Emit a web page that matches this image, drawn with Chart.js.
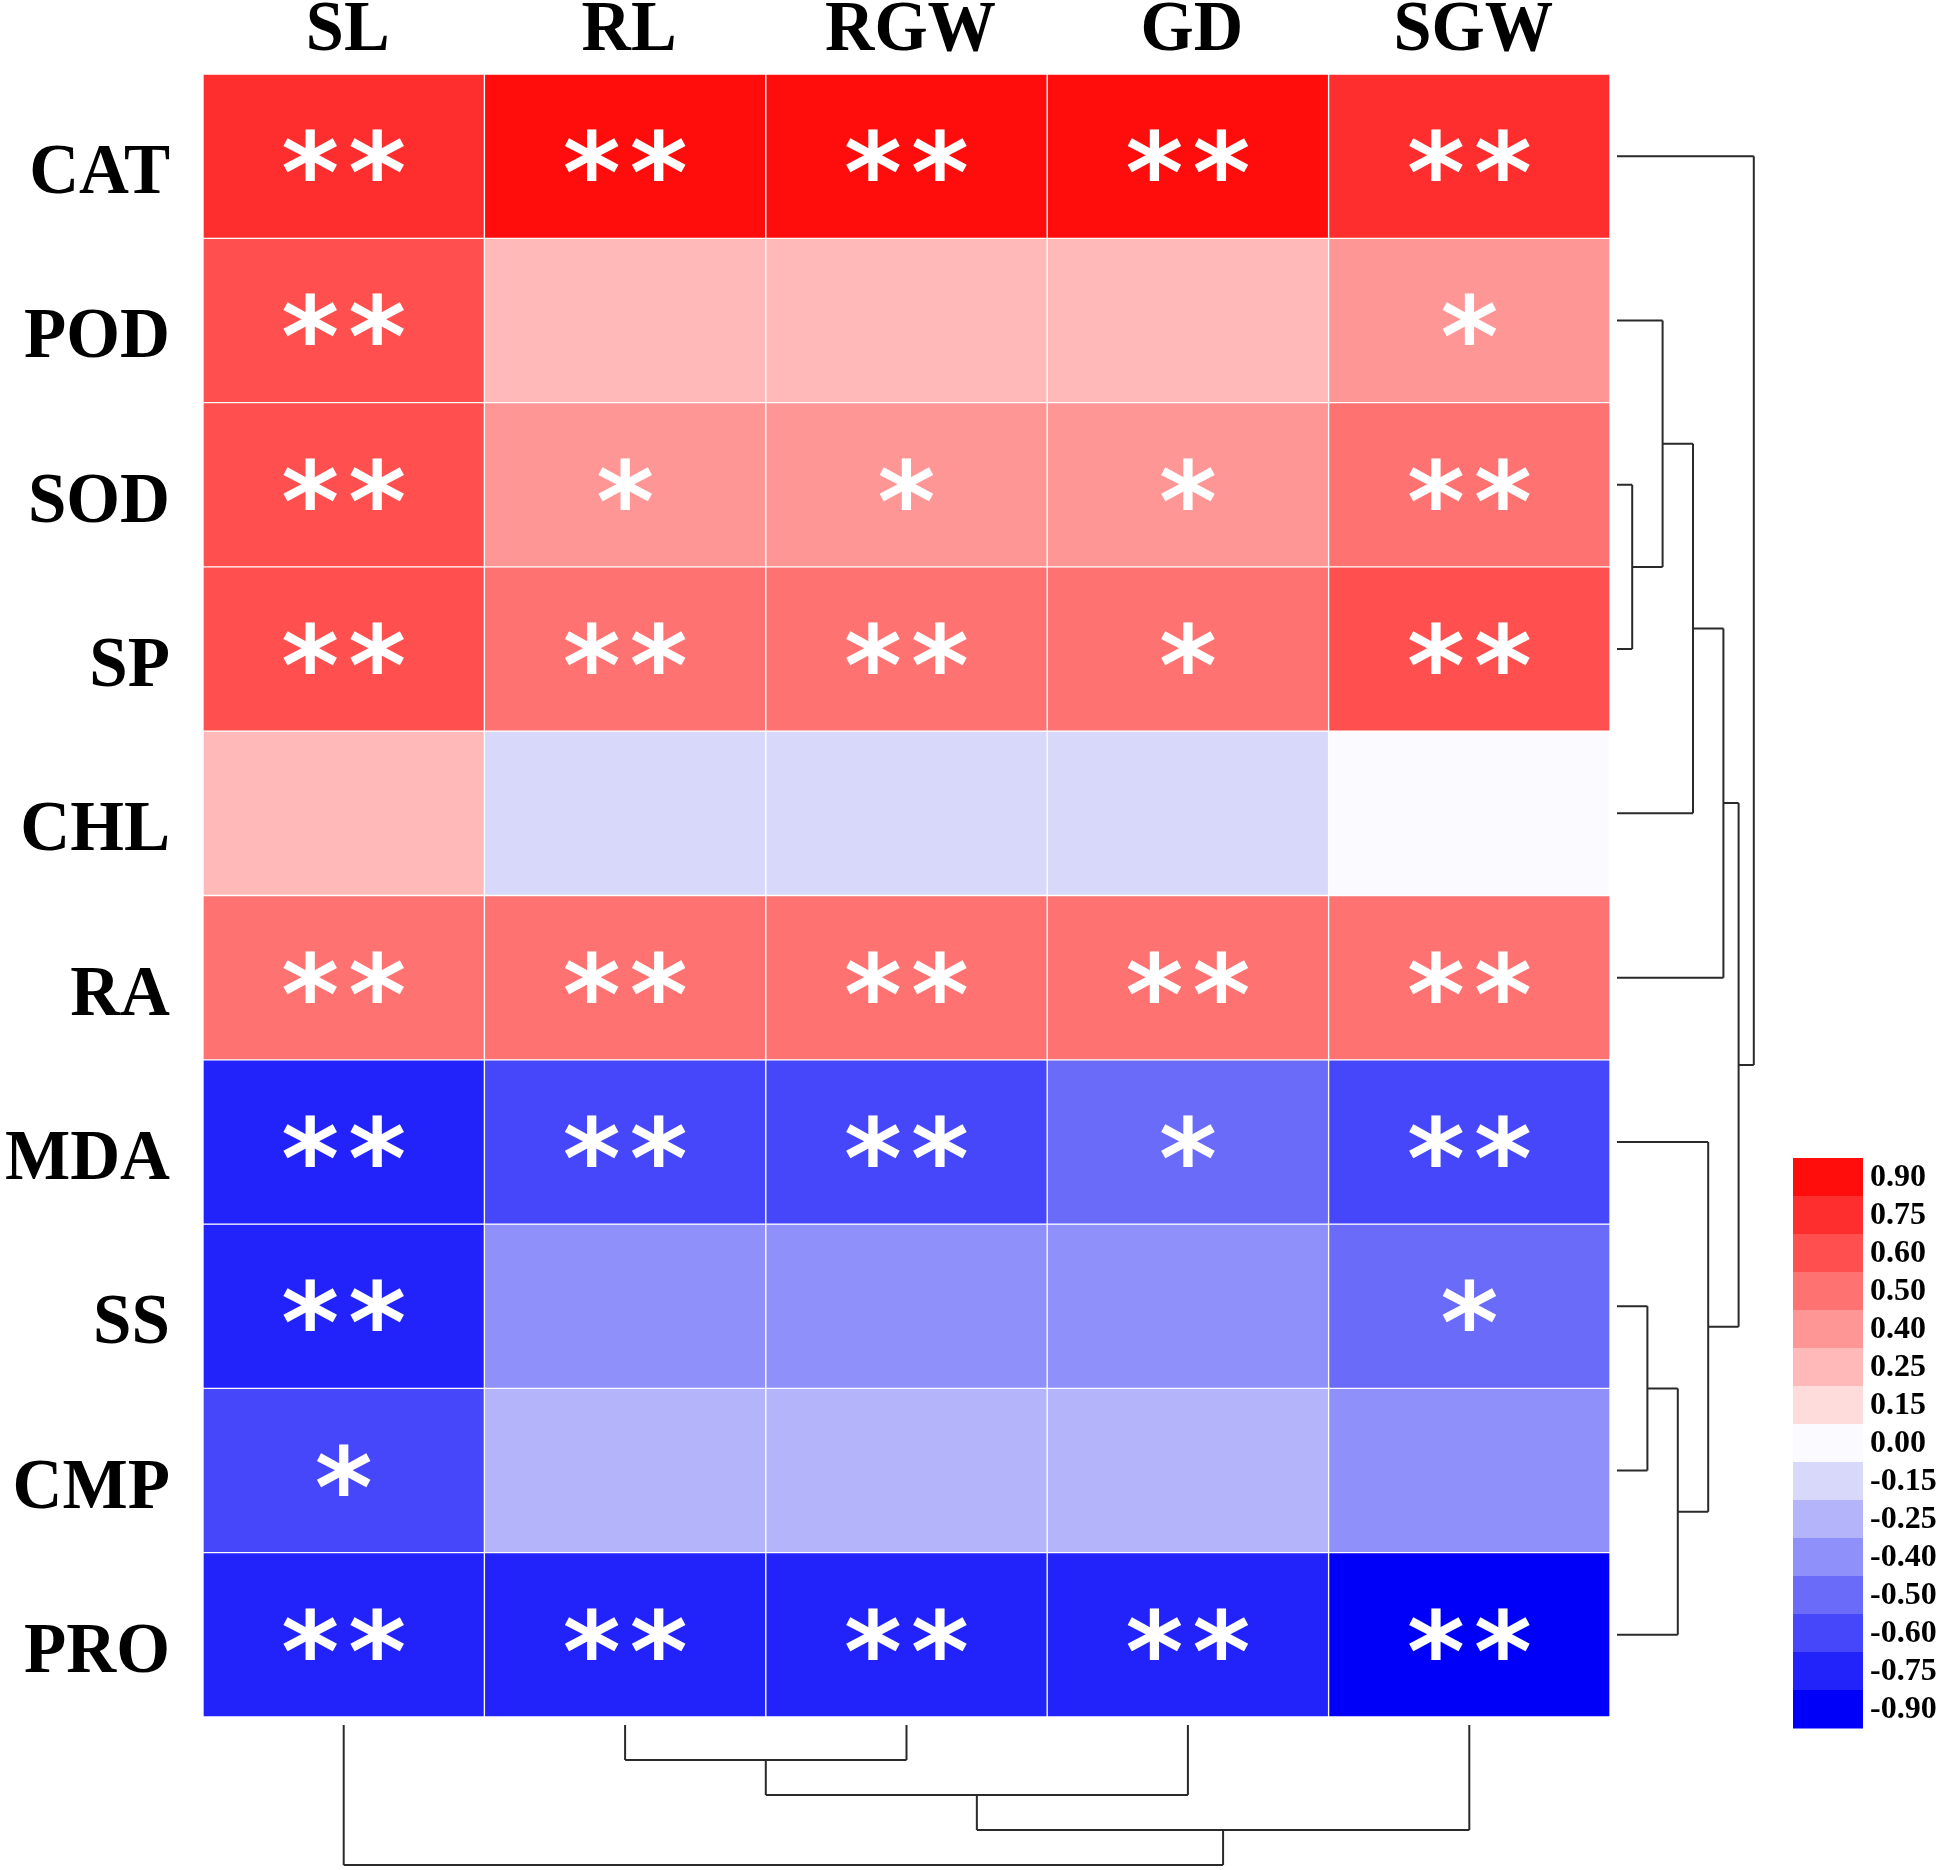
<!DOCTYPE html>
<html lang="en">
<head>
<meta charset="UTF-8">
<title>Correlation heatmap</title>
<script src="https://cdn.jsdelivr.net/npm/chart.js@4.4.1/dist/chart.umd.min.js"></script>
<style>
  body { margin: 0; background: #fff; }
  #wrap { width: 1955px; height: 1870px; }
</style>
</head>
<body>
<div id="wrap"><canvas id="heat" width="1955" height="1870"></canvas></div>
<script>
// rows and columns of the matrix
const rowNames = ['CAT', 'POD', 'SOD', 'SP', 'CHL', 'RA', 'MDA', 'SS', 'CMP', 'PRO'];
const colNames = ['SL', 'RL', 'RGW', 'GD', 'SGW'];

// correlation per row, columns in the order SL, RL, RGW, GD, SGW
const catR = [0.78, 0.91, 0.90, 0.92, 0.76];
const podR = [0.62, 0.27, 0.26, 0.25, 0.41];
const sodR = [0.63, 0.42, 0.40, 0.39, 0.52];
const spR  = [0.62, 0.53, 0.51, 0.49, 0.61];
const chlR = [0.24, -0.16, -0.15, -0.14, 0.02];
const raR  = [0.52, 0.51, 0.50, 0.53, 0.49];
const mdaR = [-0.76, -0.62, -0.61, -0.49, -0.63];
const ssR  = [-0.77, -0.41, -0.40, -0.39, -0.51];
const cmpR = [-0.58, -0.26, -0.24, -0.25, -0.42];
const proR = [-0.78, -0.74, -0.76, -0.77, -0.91];

// significance marks, same layout
const catSig = ['**', '**', '**', '**', '**'];
const podSig = ['**', '', '', '', '*'];
const sodSig = ['**', '*', '*', '*', '**'];
const spSig  = ['**', '**', '**', '*', '**'];
const chlSig = ['', '', '', '', ''];
const raSig  = ['**', '**', '**', '**', '**'];
const mdaSig = ['**', '**', '**', '*', '**'];
const ssSig  = ['**', '', '', '', '*'];
const cmpSig = ['*', '', '', '', ''];
const proSig = ['**', '**', '**', '**', '**'];

// colour key levels
const keyLevels = [0.90, 0.75, 0.60, 0.50, 0.40, 0.25, 0.15, 0.00, -0.15, -0.25, -0.40, -0.50, -0.60, -0.75, -0.90];

// cluster merges: [childA, childB, height]; ids >= leaf count refer to earlier merges
const rowLinks = [[2, 3, 1], [7, 8, 2], [1, 10, 3], [11, 9, 4], [12, 4, 5], [6, 13, 6], [14, 5, 7], [16, 15, 8], [0, 17, 9]];
const colLinks = [[1, 2, 1], [5, 3, 2], [6, 4, 3], [0, 7, 4]];

const rowValues = [catR, podR, sodR, spR, chlR, raR, mdaR, ssR, cmpR, proR];
const rowSig = [catSig, podSig, sodSig, spSig, chlSig, raSig, mdaSig, ssSig, cmpSig, proSig];

const keyColors = ['#ff0d0d', '#ff2e2e', '#ff4f4f', '#ff7272', '#ff9696', '#ffb9b9', '#ffdcdc', '#fafaff',
                   '#d8d8fa', '#b4b4fa', '#9090fa', '#6b6bfa', '#4646fa', '#2222fa', '#0000fa'];

function colorFor(v) {
    let best = 0;
    keyLevels.forEach((l, i) => {
        if (Math.abs(l - v) < Math.abs(keyLevels[best] - v)) best = i;
    });
    return keyColors[best];
}

const serif = '"Liberation Serif", "Times New Roman", serif';

// one floating bar per cell, each row is a dataset spanning [r, r+1]
const datasets = rowNames.map((name, r) => ({
    label: name,
    data: colNames.map(() => [r, r + 1]),
    backgroundColor: rowValues[r].map(colorFor),
    borderColor: 'rgba(255,255,255,0.8)',
    borderWidth: 1,
    borderSkipped: false,
    grouped: false,
    barPercentage: 1,
    categoryPercentage: 1
}));

function drawTree(ctx, links, leafPos, base, step, horizontal) {
    const pos = leafPos.slice();
    const hgt = leafPos.map(() => 0);
    ctx.beginPath();
    links.forEach(([a, b, h]) => {
        const at = base + step * h;
        [a, b].forEach(c => {
            const from = base + step * hgt[c];
            if (horizontal) { ctx.moveTo(from, pos[c]); ctx.lineTo(at, pos[c]); }
            else { ctx.moveTo(pos[c], from); ctx.lineTo(pos[c], at); }
        });
        if (horizontal) { ctx.moveTo(at, pos[a]); ctx.lineTo(at, pos[b]); }
        else { ctx.moveTo(pos[a], at); ctx.lineTo(pos[b], at); }
        pos.push((pos[a] + pos[b]) / 2);
        hgt.push(h);
    });
    ctx.stroke();
}

const decor = {
    id: 'decor',
    afterDatasetsDraw(chart) {
        const ctx = chart.ctx;
        const xs = chart.scales.x, ys = chart.scales.y;
        // significance asterisks
        ctx.save();
        ctx.font = 'bold 100px "DejaVu Sans"';
        let m = ctx.measureText('*');
        const size = 100 * 52 / (m.actualBoundingBoxAscent + m.actualBoundingBoxDescent);
        ctx.font = 'bold ' + size.toFixed(1) + 'px "DejaVu Sans"';
        m = ctx.measureText('*');
        const dy = (m.actualBoundingBoxAscent - m.actualBoundingBoxDescent) / 2;
        ctx.fillStyle = '#ffffff';
        ctx.textAlign = 'center';
        ctx.textBaseline = 'alphabetic';
        rowSig.forEach((sigs, r) => {
            const cy = ys.getPixelForValue(r + 0.5) - 1;
            sigs.forEach((s, c) => {
                const cx = xs.getPixelForValue(c);
                for (let k = 0; k < s.length; k++) {
                    ctx.fillText('*', cx + (k - (s.length - 1) / 2) * 67, cy + dy);
                }
            });
        });
        ctx.restore();
    },
    afterDraw(chart) {
        const ctx = chart.ctx;
        const xs = chart.scales.x, ys = chart.scales.y;
        const area = chart.chartArea;
        ctx.save();
        ctx.fillStyle = '#000';
        ctx.font = 'bold 72px ' + serif;
        ctx.textBaseline = 'alphabetic';
        // row labels
        ctx.textAlign = 'right';
        rowNames.forEach((n, r) => {
            const y = ys.getPixelForValue(r + 0.5) + 37;
            ctx.save();
            ctx.translate(area.left - 33, y);
            ctx.scale(0.96, 1);
            ctx.fillText(n, 0, 0);
            ctx.restore();
        });
        // column labels
        ctx.textAlign = 'center';
        colNames.forEach((n, c) => {
            ctx.save();
            ctx.translate(xs.getPixelForValue(c) + 4, area.top - 24);
            ctx.scale(0.95, 1);
            ctx.fillText(n, 0, 0);
            ctx.restore();
        });

        // dendrograms
        ctx.strokeStyle = '#2a2a2a';
        ctx.lineWidth = 2;
        drawTree(ctx, rowLinks, rowNames.map((n, r) => ys.getPixelForValue(r + 0.5)), area.right + 7, 15.2, true);
        drawTree(ctx, colLinks, colNames.map((n, c) => xs.getPixelForValue(c)), area.bottom + 8, 35, false);

        // colour key
        const kx = 1793, ky = 1158, kw = 70, kh = 38;
        ctx.font = 'bold 32px ' + serif;
        ctx.textAlign = 'left';
        ctx.textBaseline = 'middle';
        keyLevels.forEach((l, i) => {
            ctx.fillStyle = keyColors[i];
            ctx.fillRect(kx, ky + i * kh, kw, kh + 0.5);
            ctx.fillStyle = '#000';
            ctx.fillText(l.toFixed(2), kx + kw + 7, ky + i * kh + kh / 2 + 1);
        });
        ctx.restore();
    }
};

new Chart(document.getElementById('heat'), {
    type: 'bar',
    data: { labels: colNames, datasets: datasets },
    options: {
        responsive: false,
        animation: false,
        layout: { padding: { left: 203, right: 345, top: 74, bottom: 153 } },
        plugins: { legend: { display: false }, tooltip: { enabled: false } },
        scales: {
            x: { display: false, offset: true },
            y: { display: false, min: 0, max: 10, reverse: true }
        }
    },
    plugins: [decor]
});
</script>
</body>
</html>
